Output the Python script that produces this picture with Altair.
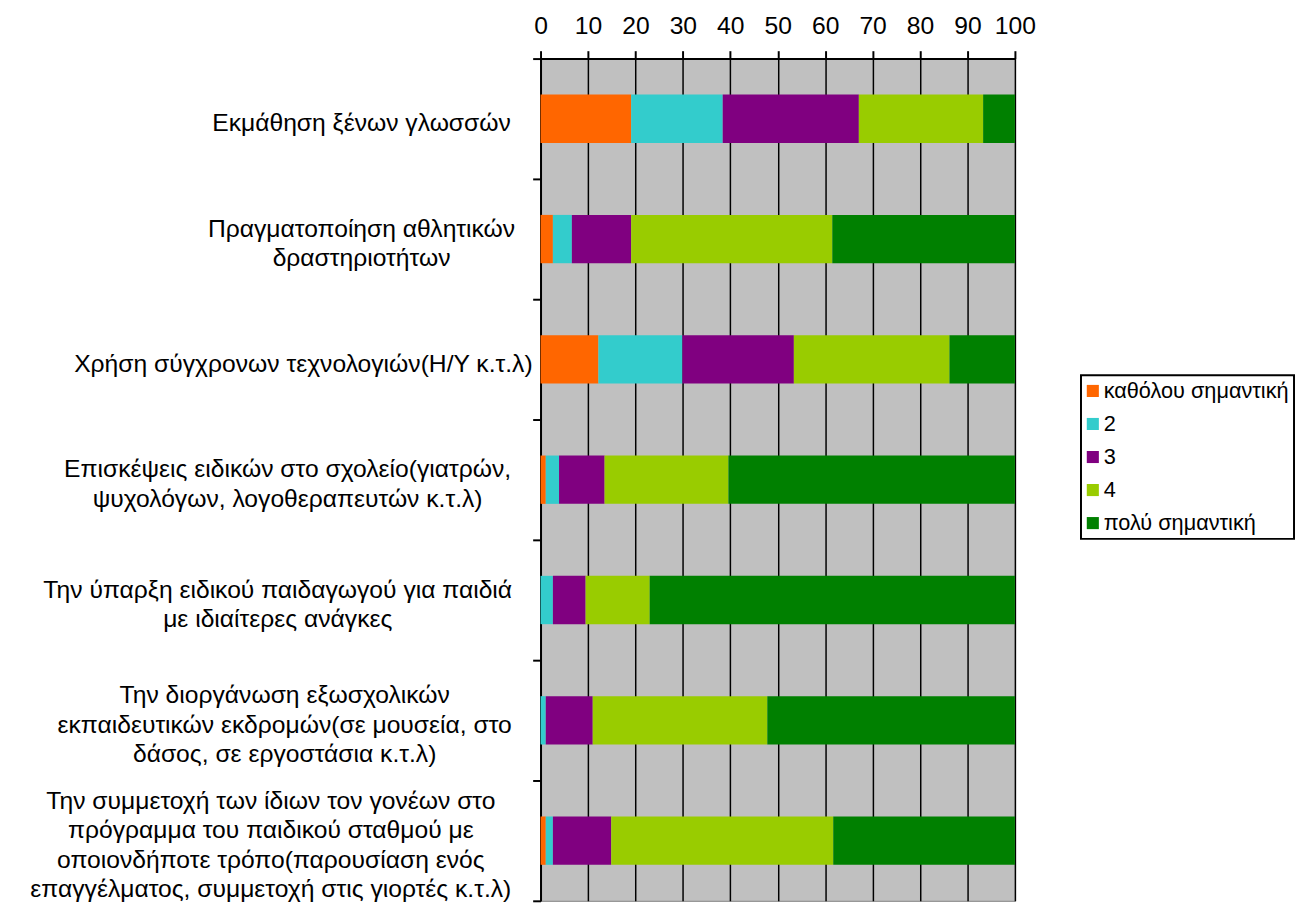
import json
import altair as alt
import pandas as pd

# Categories (lines separated by "|")
categories = [
    "Εκμάθηση ξένων γλωσσών",
    "Πραγματοποίηση αθλητικών|δραστηριοτήτων",
    "Χρήση σύγχρονων τεχνολογιών(Η/Υ κ.τ.λ)",
    "Επισκέψεις ειδικών στο σχολείο(γιατρών,|ψυχολόγων,  λογοθεραπευτών κ.τ.λ)",
    "Την ύπαρξη ειδικού παιδαγωγού για παιδιά|με ιδιαίτερες ανάγκες",
    "Την διοργάνωση εξωσχολικών|εκπαιδευτικών εκδρομών(σε μουσεία, στο|δάσος, σε εργοστάσια κ.τ.λ)",
    "Την συμμετοχή των ίδιων τον γονέων στο|πρόγραμμα του παιδικού σταθμού με|οποιονδήποτε τρόπο(παρουσίαση ενός|επαγγέλματος, συμμετοχή στις γιορτές κ.τ.λ)",
]
levels = ["καθόλου σημαντική", "2", "3", "4", "πολύ σημαντική"]
s_1 = [19.1, 2.6, 12.2, 1.1, 0.0, 0.0, 1.1]
s_2 = [19.3, 4.0, 17.7, 2.8, 2.6, 1.1, 1.5]
s_3 = [28.7, 12.5, 23.5, 9.6, 6.9, 9.9, 12.3]
s_4 = [26.2, 42.4, 32.8, 26.1, 13.5, 36.8, 46.8]
s_5 = [6.7, 38.5, 13.8, 60.4, 77.0, 52.2, 38.3]
colors = ["#FF6600", "#33CCCC", "#800080", "#99CC00", "#008000"]
x_ticks = [0, 10, 20, 30, 40, 50, 60, 70, 80, 90, 100]
# per-label padding: distance from tick end to the centre of each multi-line block
label_pad = [174, 174, 233, 249, 259, 252, 266]

series = [s_1, s_2, s_3, s_4, s_5]
rows = []
for li, (lev, vals) in enumerate(zip(levels, series)):
    for ci, cat in enumerate(categories):
        rows.append({"cat": cat, "level": lev, "order": li, "value": vals[ci]})
df = pd.DataFrame(rows)

FONT = "Liberation Sans"
LINE_H = 30

pad_expr = "[" + ",".join(str(p) for p in label_pad) + "][indexof([" + ",".join(
    json.dumps(c, ensure_ascii=False) for c in categories) + "], datum.value)]"
offset_expr = "4 - (length(split(datum.value, '|')) - 1) * %s" % (LINE_H / 2)

chart = alt.Chart(df).mark_bar(size=49).encode(
    x=alt.X("value:Q", stack=True,
            scale=alt.Scale(domain=[0, 100], nice=False, zero=True),
            axis=alt.Axis(orient="top", values=x_ticks, title=None,
                          labelFont=FONT, labelFontSize=25, labelColor="black",
                          labelPadding=12, labelFlush=False,
                          tickSize=8, tickColor="black", tickWidth=2,
                          domainColor="black", domainWidth=2,
                          grid=True, gridColor="black", gridWidth=1.5, gridOpacity=1)),
    y=alt.Y("cat:N", sort=categories, title=None,
            scale=alt.Scale(paddingInner=0, paddingOuter=0),
            axis=alt.Axis(orient="left", tickBand="extent", tickSize=8,
                          tickColor="black", tickWidth=2,
                          domainColor="black", domainWidth=2,
                          labelExpr="split(datum.label, '|')",
                          labelAlign="center", labelBaseline="middle",
                          labelPadding=alt.ExprRef(expr=pad_expr),
                          labelOffset=alt.ExprRef(expr=offset_expr),
                          labelFont=FONT, labelFontSize=25, labelColor="black",
                          labelLineHeight=LINE_H, labelLimit=0)),
    color=alt.Color("level:N", sort=levels,
                    scale=alt.Scale(domain=levels, range=colors),
                    legend=alt.Legend(title=None, orient="none",
                                      legendX=548, legendY=321,
                                      symbolType="square", symbolSize=150,
                                      symbolStrokeWidth=0, symbolOpacity=1,
                                      symbolOffset=-4,
                                      labelFont=FONT, labelFontSize=22,
                                      labelColor="black", labelOffset=0,
                                      rowPadding=11.5, padding=5,
                                      strokeColor="black", fillColor="white",
                                      labelLimit=400)),
    order=alt.Order("order:Q", sort="ascending"),
).properties(
    width=481, height=854,
    padding={"left": 22, "top": 0, "right": 0, "bottom": 0},
).configure_view(
    fill="#C0C0C0", stroke="#808080", strokeWidth=1,
).configure_legend(
    strokeWidth=2,
)

chart.save("out.html", embed_options={"renderer": "svg", "actions": False})
